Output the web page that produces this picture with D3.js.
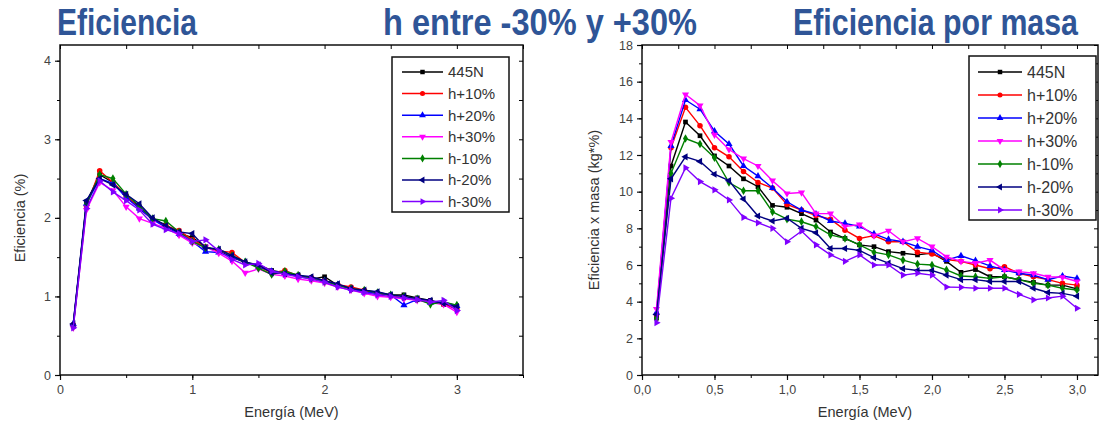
<!DOCTYPE html>
<html>
<head>
<meta charset="utf-8">
<script src="https://cdn.jsdelivr.net/npm/d3@7"></script>
<style>
  body { margin: 0; background: #fff; }
  svg { display: block; font-family: Arial, "Liberation Sans", sans-serif; }
  .tick text { fill: #444; font-size: 12.5px; }
</style>
</head>
<body>
<svg id="chart" width="1099" height="433"></svg>
<script>
// energies (MeV), shared by both panels
const energy = [0.1,0.2,0.3,0.4,0.5,0.6,0.7,0.8,0.9,1.0,1.1,1.2,1.3,1.4,1.5,1.6,1.7,1.8,1.9,2.0,2.1,2.2,2.3,2.4,2.5,2.6,2.7,2.8,2.9,3.0];

const seriesNames = ["445N", "h+10%", "h+20%", "h+30%", "h-10%", "h-20%", "h-30%"];
const seriesColors = ["#000000", "#ff0000", "#0000ff", "#ff00ff", "#008000", "#000080", "#8000ff"];

// left panel: eficiencia (%)
const efic445N = [0.62,2.2,2.55,2.45,2.27,2.14,1.98,1.91,1.8,1.75,1.63,1.58,1.5,1.43,1.4,1.33,1.3,1.27,1.22,1.25,1.14,1.1,1.07,1.04,1.02,1.02,0.98,0.95,0.9,0.87];
const eficH10 = [0.64,2.15,2.6,2.45,2.28,2.12,1.98,1.9,1.84,1.72,1.63,1.58,1.56,1.43,1.38,1.3,1.33,1.26,1.24,1.2,1.15,1.12,1.08,1.04,1.01,0.98,0.97,0.93,0.9,0.84];
const eficH20 = [0.65,2.18,2.5,2.44,2.26,2.12,1.98,1.88,1.8,1.7,1.57,1.56,1.5,1.44,1.38,1.32,1.3,1.25,1.23,1.2,1.15,1.1,1.05,1.04,1.02,0.89,0.96,0.92,0.93,0.88];
const eficH30 = [0.6,2.1,2.45,2.35,2.14,1.99,1.93,1.87,1.78,1.68,1.63,1.55,1.45,1.3,1.35,1.28,1.26,1.22,1.2,1.17,1.12,1.08,1.04,1.0,0.99,0.97,0.95,0.92,0.9,0.8];
const eficHm10 = [0.62,2.18,2.55,2.5,2.3,2.15,1.99,1.96,1.82,1.7,1.62,1.6,1.52,1.44,1.36,1.28,1.32,1.27,1.23,1.19,1.14,1.1,1.08,1.05,1.02,1.0,0.97,0.9,0.93,0.89];
const eficHm20 = [0.65,2.22,2.5,2.42,2.3,2.18,2.0,1.9,1.82,1.8,1.62,1.6,1.52,1.44,1.4,1.3,1.29,1.27,1.25,1.2,1.16,1.1,1.08,1.06,1.02,1.0,0.97,0.95,0.91,0.87];
const eficHm30 = [0.6,2.12,2.47,2.33,2.22,2.1,1.92,1.85,1.8,1.7,1.72,1.58,1.47,1.4,1.42,1.32,1.28,1.25,1.22,1.18,1.12,1.08,1.05,1.02,1.0,0.98,0.96,0.93,0.95,0.82];

// right panel: eficiencia x masa (kg*%)
const masa445N = [3.1,11.4,13.8,13.05,11.95,11.4,10.7,10.27,9.25,9.15,8.8,8.45,7.8,7.45,7.1,7.0,6.73,6.64,6.55,6.65,6.2,5.6,5.75,5.36,5.36,5.2,5.05,4.9,4.9,4.7];
const masaH10 = [3.3,12.4,14.6,13.6,12.4,11.9,11.1,10.5,10.2,9.3,9.0,8.7,8.5,7.9,7.45,7.6,7.27,7.27,6.7,6.6,6.3,6.2,6.0,5.8,5.9,5.55,5.36,5.2,5.0,4.9];
const masaH20 = [3.4,12.5,15.0,14.5,13.3,12.6,11.4,10.85,10.2,9.45,9.0,8.78,8.4,8.27,8.1,7.7,7.4,7.27,7.0,6.8,6.27,6.5,6.24,5.95,5.73,5.55,5.45,5.2,5.4,5.27];
const masaH30 = [3.6,12.7,15.3,14.7,13.1,12.3,11.8,11.4,10.6,9.9,9.95,8.8,8.8,8.1,8.2,7.6,7.87,7.27,7.45,7.0,6.45,6.2,6.1,6.27,5.73,5.64,5.55,5.36,5.33,5.1];
const masaHm10 = [3.1,11.0,12.9,12.6,11.85,10.5,10.05,10.05,8.9,8.5,8.36,8.1,7.64,7.45,7.1,6.7,6.55,6.27,6.05,6.0,5.73,5.4,5.36,5.27,5.36,5.2,5.0,4.9,4.73,4.64];
const masaHm20 = [3.3,10.7,11.9,11.65,10.95,10.6,9.6,8.67,8.4,8.55,8.0,7.76,6.9,6.9,6.8,6.4,6.1,5.8,5.7,5.7,5.45,5.2,5.2,5.1,5.1,5.1,4.73,4.5,4.45,4.3];
const masaHm30 = [2.85,9.64,11.3,10.55,10.1,9.55,8.6,8.3,8.0,7.27,7.85,7.1,6.55,6.2,6.55,6.0,6.0,5.45,5.55,5.45,4.8,4.78,4.73,4.73,4.73,4.4,4.1,4.2,4.3,3.64];

// tick labels
const leftXTicks = [0, 1, 2, 3];
const leftYTicks = [0, 1, 2, 3, 4];
const rightXTicks = [0, 0.5, 1.0, 1.5, 2.0, 2.5, 3.0];
const rightYTicks = [0, 2, 4, 6, 8, 10, 12, 14, 16, 18];

const titles = ["Eficiencia", "h entre -30% y +30%", "Eficiencia por masa"];

const svg = d3.select("#chart");

// marker shapes in Origin's default order
const shapes = [
  { type: d3.symbolSquare, rot: 0 },
  { type: d3.symbolCircle, rot: 0 },
  { type: d3.symbolTriangle, rot: 0 },
  { type: d3.symbolTriangle, rot: 180 },
  { type: d3.symbolDiamond, rot: 0 },
  { type: d3.symbolTriangle, rot: -90 },
  { type: d3.symbolTriangle, rot: 90 }
];

function drawPanel(cfg) {
  const x = d3.scaleLinear().domain(cfg.xDomain).range([cfg.left, cfg.right]);
  const y = d3.scaleLinear().domain(cfg.yDomain).range([cfg.bottom, cfg.top]);
  const g = svg.append("g");

  // frame
  g.append("rect")
    .attr("x", cfg.left).attr("y", cfg.top)
    .attr("width", cfg.right - cfg.left).attr("height", cfg.bottom - cfg.top)
    .attr("fill", "none").attr("stroke", "#111").attr("stroke-width", 1.5);

  const xMinor = d3.range(cfg.xDomain[0], cfg.xDomain[1] + 1e-9, cfg.xMinorStep);
  const yMinor = d3.range(cfg.yDomain[0], cfg.yDomain[1] + 1e-9, cfg.yMinorStep);

  // bottom axis with labels
  g.append("g")
    .attr("transform", `translate(0,${cfg.bottom})`)
    .call(d3.axisBottom(x).tickValues(cfg.xTicks).tickFormat(cfg.xFormat).tickSize(5).tickPadding(5))
    .call(a => a.select(".domain").remove())
    .call(a => a.selectAll(".tick line").attr("stroke", "#111").attr("stroke-width", 1.2));
  g.append("g")
    .attr("transform", `translate(0,${cfg.bottom})`)
    .call(d3.axisBottom(x).tickValues(xMinor).tickFormat("").tickSize(3))
    .call(a => a.select(".domain").remove());

  // left axis with labels
  g.append("g")
    .attr("transform", `translate(${cfg.left},0)`)
    .call(d3.axisLeft(y).tickValues(cfg.yTicks).tickFormat(d3.format("d")).tickSize(5).tickPadding(4))
    .call(a => a.select(".domain").remove())
    .call(a => a.selectAll(".tick line").attr("stroke", "#111").attr("stroke-width", 1.2));
  g.append("g")
    .attr("transform", `translate(${cfg.left},0)`)
    .call(d3.axisLeft(y).tickValues(yMinor).tickFormat("").tickSize(3))
    .call(a => a.select(".domain").remove());

  // mirrored ticks on top and right, pointing inward
  g.append("g")
    .attr("transform", `translate(0,${cfg.top})`)
    .call(d3.axisBottom(x).tickValues(xMinor).tickFormat("").tickSize(4))
    .call(a => a.select(".domain").remove());
  g.append("g")
    .attr("transform", `translate(${cfg.right},0)`)
    .call(d3.axisLeft(y).tickValues(yMinor).tickFormat("").tickSize(4))
    .call(a => a.select(".domain").remove());

  // axis titles
  g.append("text")
    .attr("x", (cfg.left + cfg.xTitleRight) / 2).attr("y", 417)
    .attr("text-anchor", "middle").attr("font-size", 14.5).attr("fill", "#333")
    .text("Energía (MeV)");
  g.append("text")
    .attr("transform", `translate(${cfg.yTitleX},${(cfg.top + cfg.bottom) / 2 + cfg.yTitleShift}) rotate(-90)`)
    .attr("text-anchor", "middle").attr("font-size", 14.5).attr("fill", "#333")
    .text(cfg.yTitle);

  // series
  const line = d3.line().x((d, i) => x(energy[i])).y(d => y(d));
  cfg.data.forEach((vals, k) => {
    g.append("path")
      .attr("d", line(vals))
      .attr("fill", "none").attr("stroke", seriesColors[k]).attr("stroke-width", 1.4);
    const sym = d3.symbol().type(shapes[k].type).size(k === 1 ? 24 : 22);
    g.selectAll(null).data(vals).join("path")
      .attr("d", sym)
      .attr("transform", (d, i) => `translate(${x(energy[i])},${y(d)}) rotate(${shapes[k].rot})`)
      .attr("fill", seriesColors[k]);
  });

  // legend
  const lg = cfg.legend;
  g.append("rect")
    .attr("x", lg.x).attr("y", lg.y).attr("width", lg.w).attr("height", lg.h)
    .attr("fill", "#fff").attr("stroke", "#111").attr("stroke-width", 1.5);
  seriesNames.forEach((name, k) => {
    const cy = lg.y + lg.first + k * lg.step;
    g.append("line")
      .attr("x1", lg.x + lg.lineX0).attr("x2", lg.x + lg.lineX1)
      .attr("y1", cy).attr("y2", cy)
      .attr("stroke", seriesColors[k]).attr("stroke-width", 1.5);
    g.append("path")
      .attr("d", d3.symbol().type(shapes[k].type).size(20))
      .attr("transform", `translate(${lg.x + (lg.lineX0 + lg.lineX1) / 2},${cy}) rotate(${shapes[k].rot})`)
      .attr("fill", seriesColors[k]);
    g.append("text")
      .attr("x", lg.x + lg.textX).attr("y", cy).attr("dy", "0.36em")
      .attr("font-size", lg.font).attr("fill", "#333")
      .text(name);
  });
}

drawPanel({
  left: 60, right: 523, top: 45, bottom: 375,
  xDomain: [0, 3.5], yDomain: [0, 4.2],
  xTicks: leftXTicks, yTicks: leftYTicks,
  xMinorStep: 0.5, yMinorStep: 0.5,
  xFormat: d3.format("d"),
  xTitleRight: 523, yTitleX: 25, yTitleShift: 8,
  yTitle: "Eficiencia (%)",
  data: [efic445N, eficH10, eficH20, eficH30, eficHm10, eficHm20, eficHm30],
  legend: { x: 392, y: 57, w: 117, h: 155, first: 15, step: 21.6, lineX0: 10, lineX1: 51, textX: 56, font: 15 }
});

drawPanel({
  left: 642, right: 1098, top: 45, bottom: 375,
  xDomain: [0, 3.145], yDomain: [0, 18],
  xTicks: rightXTicks, yTicks: rightYTicks,
  xMinorStep: 0.25, yMinorStep: 1,
  xFormat: d => d3.format(".1f")(d).replace(".", ","),
  xTitleRight: 1088, yTitleX: 599, yTitleShift: 0,
  yTitle: "Eficiencia x masa (kg*%)",
  data: [masa445N, masaH10, masaH20, masaH30, masaHm10, masaHm20, masaHm30],
  legend: { x: 969, y: 56, w: 127, h: 164, first: 16, step: 23, lineX0: 9, lineX1: 53, textX: 58, font: 16 }
});

// blue slide titles
const titlePos = [{ x: 57, w: 140 }, { x: 383, w: 314 }, { x: 793, w: 285 }];
svg.selectAll(".title").data(titles).join("text")
  .attr("class", "title")
  .attr("x", (d, i) => titlePos[i].x).attr("y", 35)
  .attr("textLength", (d, i) => titlePos[i].w)
  .attr("lengthAdjust", "spacingAndGlyphs")
  .attr("font-size", 36).attr("font-weight", "bold").attr("fill", "#2f5597")
  .text(d => d);
</script>
</body>
</html>
